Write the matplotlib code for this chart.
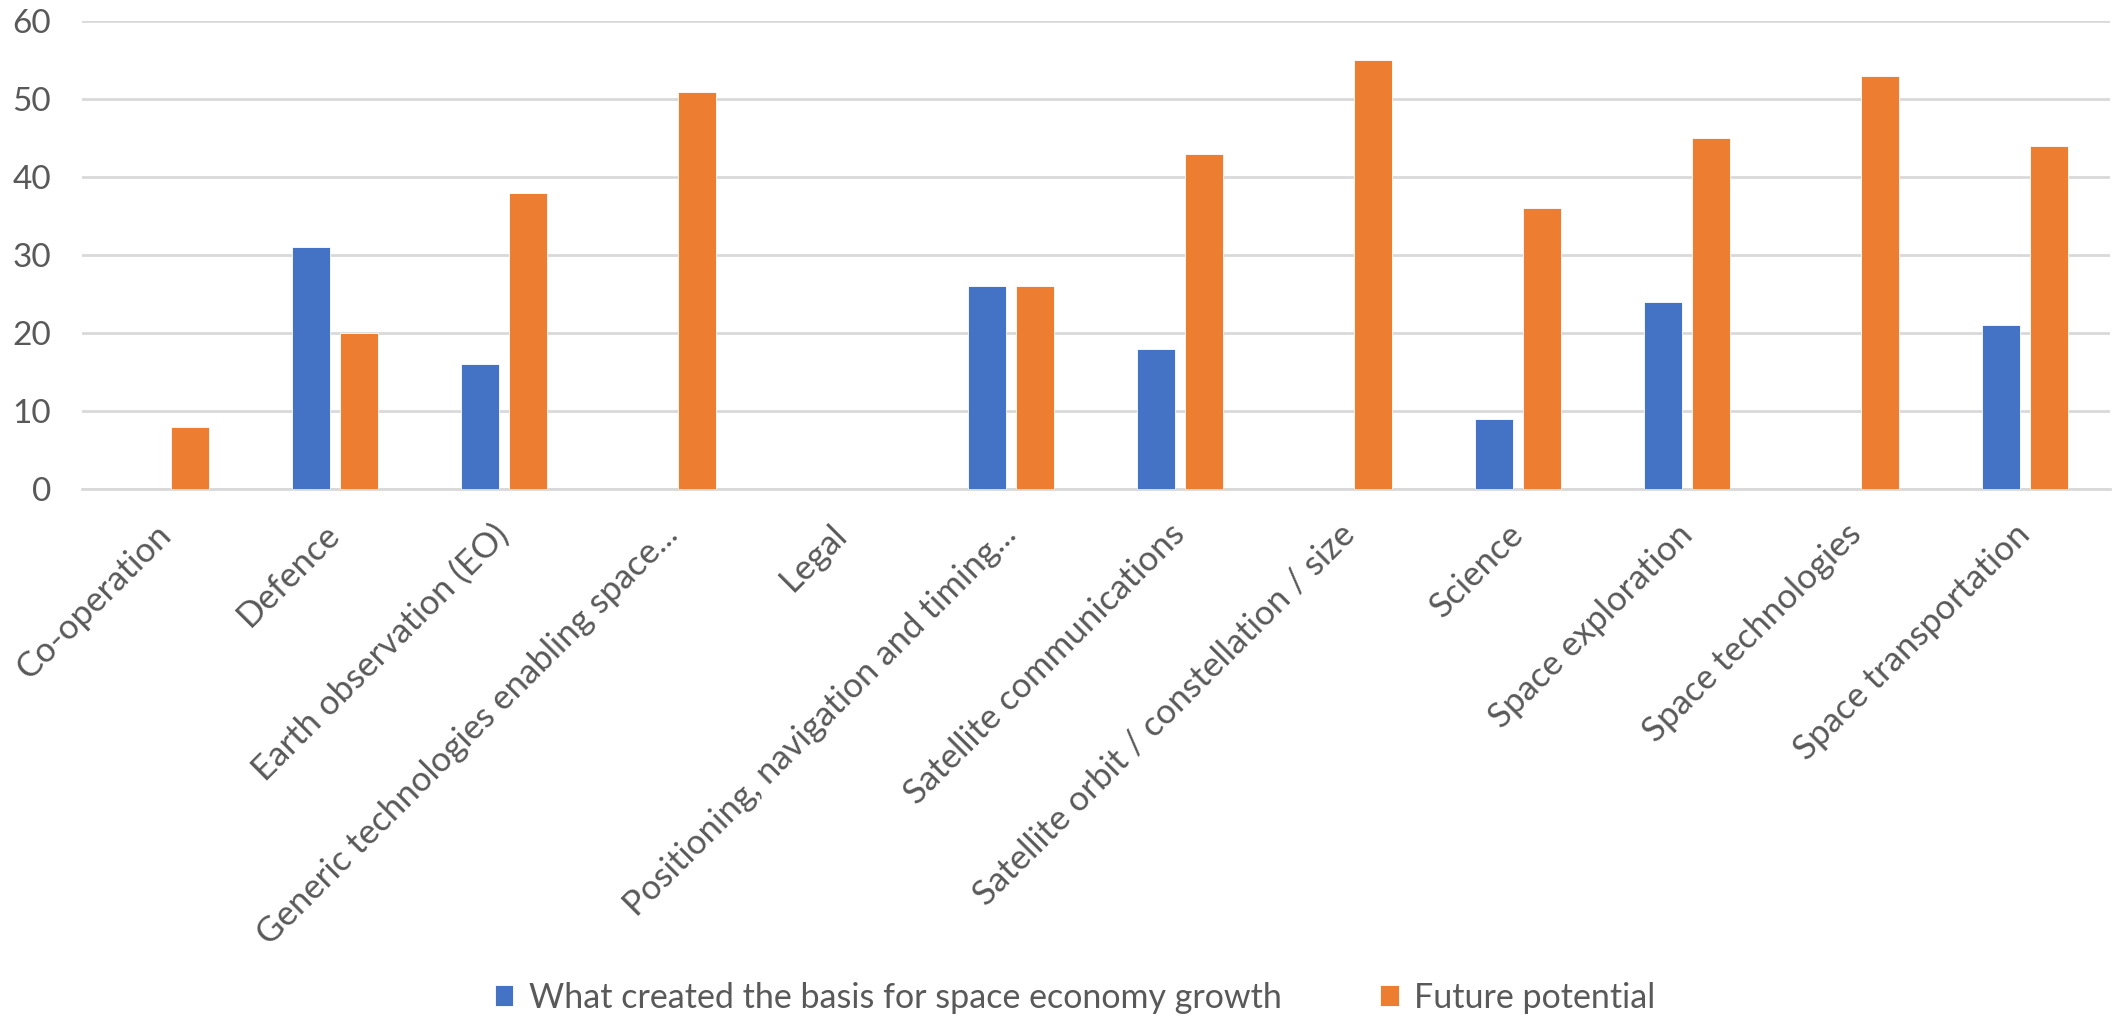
import matplotlib
matplotlib.use("Agg")
import matplotlib.pyplot as plt
import numpy as np

categories = [
    "Co-operation",
    "Defence",
    "Earth observation (EO)",
    "Generic technologies enabling space...",
    "Legal",
    "Positioning, navigation and timing...",
    "Satellite communications",
    "Satellite orbit / constellation / size",
    "Science",
    "Space exploration",
    "Space technologies",
    "Space transportation",
]
basis_growth = [0, 31, 16, 0, 0, 26, 18, 0, 9, 24, 0, 21]
future_potential = [8, 20, 38, 51, 0, 26, 43, 55, 36, 45, 53, 44]
series_names = ["What created the basis for space economy growth", "Future potential"]
y_ticks = [0, 10, 20, 30, 40, 50, 60]

BLUE = "#4472C4"
ORANGE = "#ED7D31"
GRID = "#D9D9D9"
TEXT = "#595959"

plt.rcParams["font.family"] = ["Lato", "DejaVu Sans"]

fig = plt.figure(figsize=(21.13, 10.19), dpi=100)
ax = fig.add_axes([0.0386, 0.520, 0.9598, 0.459])

x = np.arange(len(categories))
w = 0.225
off = 0.1425
b1 = ax.bar(x - off, basis_growth, width=w, color=BLUE, edgecolor="white", linewidth=0.6,
            label=series_names[0], zorder=3)
b2 = ax.bar(x + off, future_potential, width=w, color=ORANGE, edgecolor="white", linewidth=0.6,
            label=series_names[1], zorder=3)

ax.set_xlim(-0.5, len(categories) - 0.5)
ax.set_ylim(0, 60)
ax.set_yticks(y_ticks)
ax.yaxis.grid(True, color=GRID, linewidth=2.0, zorder=0)
ax.set_axisbelow(True)
for s in ["top", "right", "left"]:
    ax.spines[s].set_visible(False)
ax.spines["bottom"].set_color(GRID)
ax.spines["bottom"].set_linewidth(2.0)

ax.tick_params(axis="y", length=0, pad=22, labelsize=24, labelcolor=TEXT)
ax.tick_params(axis="x", length=0, pad=29, labelsize=25, labelcolor=TEXT)
ax.set_xticks(x)
ax.set_xticklabels(categories, rotation=45, ha="right", va="center", rotation_mode="anchor")

fig.legend(handles=[b1, b2], labels=series_names, loc="center",
           bbox_to_anchor=(1075 / 2113, 0.021), ncol=2, frameon=False,
           fontsize=24.5, labelcolor=TEXT, handlelength=0.55, handleheight=0.6,
           handletextpad=0.45, columnspacing=2.9)

fig.savefig("out.png", dpi=100, facecolor="white")
